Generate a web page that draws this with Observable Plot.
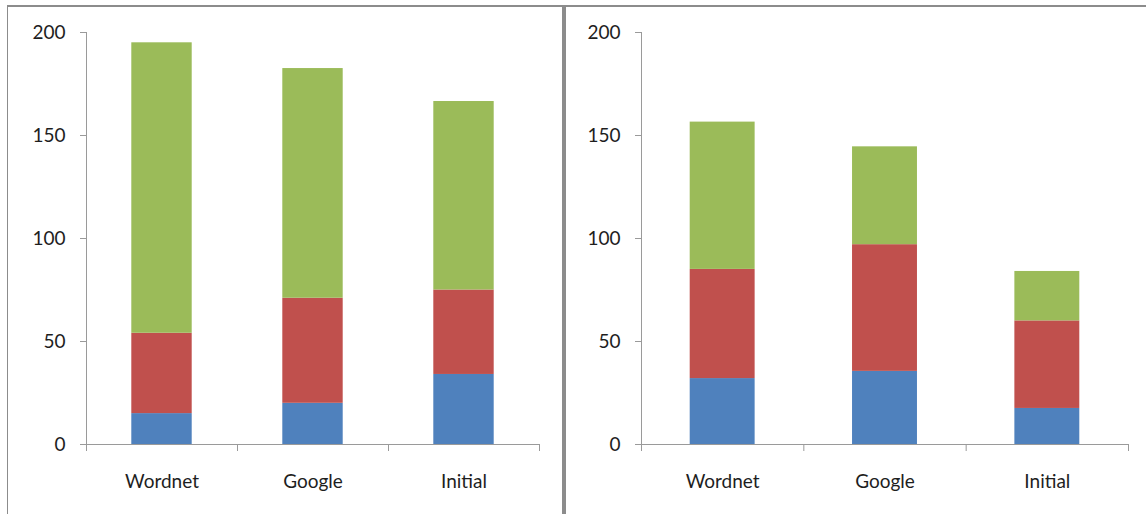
<!DOCTYPE html>
<html>
<head>
<meta charset="utf-8">
<script src="https://cdn.jsdelivr.net/npm/d3@7"></script>
<script src="https://cdn.jsdelivr.net/npm/@observablehq/plot@0.6"></script>
<style>
  body { margin: 0; background: #fff; }
  #frame { position: relative; width: 1146px; height: 514px; overflow: hidden; background: #fff; }
  .rule { position: absolute; background: #8c8c8c; }
  .panel { position: absolute; top: 7px; }
  .panel svg { display: block; }
</style>
</head>
<body>
<div id="frame">
  <div class="rule" style="left:7px;top:5px;width:1139px;height:2px"></div>
  <div class="rule" style="left:7px;top:5px;width:1px;height:509px"></div>
  <div class="rule" style="left:562px;top:5px;width:4px;height:509px"></div>
  <div id="left" class="panel" style="left:8px"></div>
  <div id="right" class="panel" style="left:567px"></div>
</div>
<script>
// Categories and series (bottom to top in each stack)
const categories = ["Wordnet", "Google", "Initial"];
const seriesNames = ["Series1", "Series2", "Series3"];
const seriesColors = ["#4F81BD", "#C0504D", "#9BBB59"];
const yTicks = [0, 50, 100, 150, 200];

// Left chart values
const leftSeries1 = [15, 20, 34];
const leftSeries2 = [39, 51, 41];
const leftSeries3 = [141, 111.5, 91.5];

// Right chart values
const rightSeries1 = [32, 35.5, 17.5];
const rightSeries2 = [53, 61.5, 42.5];
const rightSeries3 = [71.5, 47.5, 24];

// Turn per-series columns into stacked rows {i, series, y1, y2}
function stackRows(columns) {
  const rows = [];
  categories.forEach((cat, i) => {
    let base = 0;
    columns.forEach((col, s) => {
      rows.push({i, category: cat, series: seriesNames[s], y1: base, y2: base + col[i]});
      base += col[i];
    });
  });
  return rows;
}

const axisGray = "#9a9a9a";
const textColor = "#1e1e1e";

function chart(columns, {width, marginLeft, marginRight}) {
  const rows = stackRows(columns);
  const n = categories.length;
  return Plot.plot({
    width,
    height: 507,
    marginTop: 25,
    marginBottom: 70,
    marginLeft,
    marginRight,
    style: {fontFamily: "Lato, 'Open Sans', sans-serif", fontSize: "19px", background: "transparent", overflow: "visible"},
    x: {type: "linear", domain: [0, n], axis: null},
    y: {domain: [0, 200], axis: null},
    color: {domain: seriesNames, range: seriesColors},
    marks: [
      Plot.rectY(rows, {x1: d => d.i + 0.3, x2: d => d.i + 0.7, y1: "y1", y2: "y2", fill: "series"}),
      // value axis
      Plot.ruleX([0], {y1: 0, y2: 200, stroke: axisGray}),
      Plot.axisY({ticks: yTicks, tickSize: 6, tickPadding: 15, stroke: axisGray, fill: textColor}),
      // category axis: baseline, boundary ticks, centred labels
      Plot.ruleY([0], {stroke: axisGray}),
      Plot.axisX({ticks: d3.range(n + 1), tickSize: 7, tickFormat: () => "", stroke: axisGray}),
      Plot.axisX({ticks: categories.map((_, i) => i + 0.5), tickSize: 0, tickPadding: 30,
        tickFormat: d => categories[Math.floor(d)], fill: textColor})
    ]
  });
}

document.getElementById("left").append(
  chart([leftSeries1, leftSeries2, leftSeries3], {width: 554, marginLeft: 78, marginRight: 23})
);
document.getElementById("right").append(
  chart([rightSeries1, rightSeries2, rightSeries3], {width: 579, marginLeft: 74, marginRight: 18})
);
</script>
</body>
</html>
